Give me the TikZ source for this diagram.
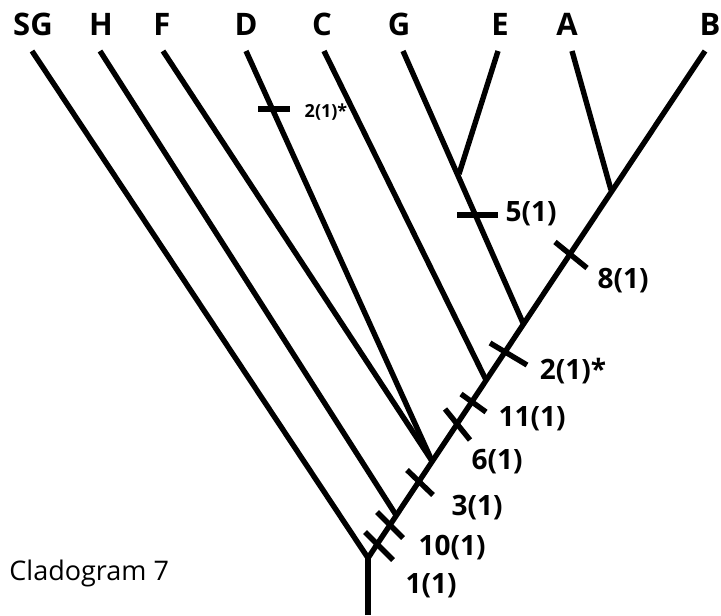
\documentclass[tikz,border=0pt]{standalone}
\usepackage{fontspec}
\setmainfont{Open Sans}
\begin{document}
\begin{tikzpicture}[x=0.5pt,y=-0.5pt,
  branch/.style={line width=2.7pt},
  tickmark/.style={line width=2.7pt},
  taxon/.style={font=\bfseries\fontsize{15.5}{17}\selectfont, inner sep=0pt},
  trait/.style={font=\bfseries\fontsize{14}{16}\selectfont, inner sep=0pt},
  smalltrait/.style={font=\bfseries\fontsize{9}{10}\selectfont, inner sep=0pt}]
\useasboundingbox (0,0) rectangle (721,615);
\fill[white] (0,0) rectangle (721,615);

% taxon labels
\node[taxon] (lSG) at (33,24) {SG};
\node[taxon] (lH)  at (101,24) {H};
\node[taxon] (lF)  at (162,24) {F};
\node[taxon] (lD)  at (246,24) {D};
\node[taxon] (lC)  at (322,24) {C};
\node[taxon] (lG)  at (399,24) {G};
\node[taxon] (lE)  at (500,24) {E};
\node[taxon] (lA)  at (567,24) {A};
\node[taxon] (lB)  at (710,24) {B};

% branch tips
\coordinate (SG) at (32,51);
\coordinate (H)  at (100,51);
\coordinate (F)  at (163,51);
\coordinate (D)  at (246,51);
\coordinate (C)  at (324,51);
\coordinate (G)  at (403,51);
\coordinate (E)  at (498,51);
\coordinate (A)  at (572,51);
\coordinate (B)  at (705,51);

% internal nodes
\coordinate (base) at (368,615);
\coordinate (root) at (368,558);
\coordinate (nH)   at (396,515);
\coordinate (nFD)  at (432,461);
\coordinate (nC)   at (486,380);
\coordinate (nG)   at (523,323);
\coordinate (nE)   at (459,174);
\coordinate (nA)   at (611,190);

% branches
\draw[branch] (base) -- (root);
\draw[branch] (root) -- (B);
\draw[branch] (root) -- (SG);
\draw[branch] (nH) -- (H);
\draw[branch] (nFD) -- (F);
\draw[branch] (nFD) -- (D);
\draw[branch] (nC) -- (C);
\draw[branch] (nG) -- (G);
\draw[branch] (nE) -- (E);
\draw[branch] (nA) -- (A);

% character state changes
\draw[tickmark] (365,532) coordinate (t1a) -- (393,560) coordinate (t1b);
\draw[tickmark] (377,512) coordinate (t10a) -- (403,538) coordinate (t10b);
\draw[tickmark] (407,470) coordinate (t3a) -- (433,495) coordinate (t3b);
\draw[tickmark] (445,409) coordinate (t6a) -- (470,440) coordinate (t6b);
\draw[tickmark] (461,394) coordinate (t11a) -- (486,412) coordinate (t11b);
\draw[tickmark] (490,343) coordinate (t2a) -- (527,365) coordinate (t2b);
\draw[tickmark] (555,242) coordinate (t8a) -- (587,268) coordinate (t8b);
\draw[tickmark] (457,215) coordinate (t5a) -- (498,215) coordinate (t5b);
\draw[tickmark] (258,109) coordinate (tDa) -- (290,109) coordinate (tDb);

% character labels
\node[trait] (c1)  at (431,586) {1(1)};
\node[trait] (c10) at (452,548) {10(1)};
\node[trait] (c3)  at (477,508) {3(1)};
\node[trait] (c6)  at (497,462) {6(1)};
\node[trait] (c11) at (532,419) {11(1)};
\node[trait] (c2)  at (573,371) {2(1)*};
\node[trait] (c8)  at (623,281) {8(1)};
\node[trait] (c5)  at (531,214) {5(1)};
\node[smalltrait] (cD) at (326,112) {2(1)*};

\node[anchor=west, font=\fontsize{13.5}{15}\selectfont, inner sep=0pt] (title) at (9,573) {Cladogram 7};
\end{tikzpicture}
\end{document}
